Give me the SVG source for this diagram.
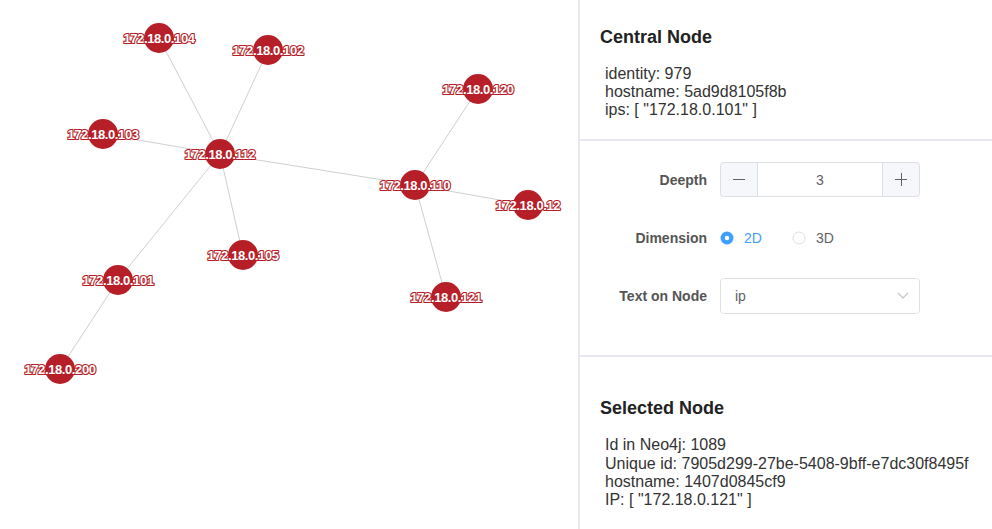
<svg xmlns="http://www.w3.org/2000/svg" width="992" height="529" viewBox="0 0 992 529">
<style>
.edge{stroke:#cfcfcf;stroke-width:1;fill:none}
.node circle{fill:#b71f28}
.node text{font-family:"Liberation Sans",Arial,sans-serif;font-size:13px;font-weight:bold;fill:#fff;stroke:#b71f28;stroke-width:2.2;paint-order:stroke;stroke-linejoin:round;text-anchor:middle;letter-spacing:-0.4px}
.title{font-family:"Liberation Sans",Arial,sans-serif;font-size:18px;font-weight:bold;fill:#222}
.body{font-family:"Liberation Sans",Arial,sans-serif;font-size:16px;fill:#333}
.lbl{font-family:"Liberation Sans",Arial,sans-serif;font-size:14px;font-weight:bold;fill:#555;text-anchor:end}
.ctl{font-family:"Liberation Sans",Arial,sans-serif;font-size:14px;fill:#606266}
.div{fill:#e8e9ef}
</style>
<rect width="992" height="529" fill="#fff"/>
<g id="connectors">
<line class="edge" x1="159" y1="38" x2="220" y2="154"/>
<line class="edge" x1="268" y1="50" x2="220" y2="154"/>
<line class="edge" x1="103" y1="134" x2="220" y2="154"/>
<line class="edge" x1="220" y1="154" x2="415" y2="185"/>
<line class="edge" x1="220" y1="154" x2="243" y2="255"/>
<line class="edge" x1="220" y1="154" x2="118" y2="280"/>
<line class="edge" x1="118" y1="280" x2="60" y2="369"/>
<line class="edge" x1="415" y1="185" x2="478" y2="89"/>
<line class="edge" x1="415" y1="185" x2="528" y2="205"/>
<line class="edge" x1="415" y1="185" x2="446" y2="297"/>
</g>
<g id="n104" class="node"><circle cx="159" cy="38" r="15"/><text x="159" y="43">172.18.0.104</text></g>
<g id="n102" class="node"><circle cx="268" cy="50" r="15"/><text x="268" y="55">172.18.0.102</text></g>
<g id="n103" class="node"><circle cx="103" cy="134" r="15"/><text x="103" y="139">172.18.0.103</text></g>
<g id="n112" class="node"><circle cx="220" cy="154" r="15"/><text x="220" y="159">172.18.0.112</text></g>
<g id="n105" class="node"><circle cx="243" cy="255" r="15"/><text x="243" y="260">172.18.0.105</text></g>
<g id="n101" class="node"><circle cx="118" cy="280" r="15"/><text x="118" y="285">172.18.0.101</text></g>
<g id="n200" class="node"><circle cx="60" cy="369" r="15"/><text x="60" y="374">172.18.0.200</text></g>
<g id="n120" class="node"><circle cx="478" cy="89" r="15"/><text x="478" y="94">172.18.0.120</text></g>
<g id="n110" class="node"><circle cx="415" cy="185" r="15"/><text x="415" y="190">172.18.0.110</text></g>
<g id="n12" class="node"><circle cx="528" cy="205" r="15"/><text x="528" y="210">172.18.0.12</text></g>
<g id="n121" class="node"><circle cx="446" cy="297" r="15"/><text x="446" y="302">172.18.0.121</text></g>

<g id="panel">
<rect class="div" x="578" y="0" width="2" height="529"/>
<rect class="div" x="580" y="139" width="412" height="2"/>
<rect class="div" x="580" y="355" width="412" height="2"/>

<g id="central">
<text class="title" x="600" y="43">Central Node</text>
<text class="body" x="605" y="79">identity: 979</text>
<text class="body" x="605" y="97">hostname: 5ad9d8105f8b</text>
<text class="body" x="605" y="115">ips: [ "172.18.0.101" ]</text>
</g>

<g id="deepth">
<text class="lbl" x="707" y="185">Deepth</text>
<path d="M757.5 163 V196 H720.5 V166 a3 3 0 0 1 3 -3 Z" fill="#f5f7fa"/>
<path d="M882.5 163 H916.5 a3 3 0 0 1 3 3 V193 a3 3 0 0 1 -3 3 H882.5 Z" fill="#f5f7fa"/>
<rect x="720.5" y="162.5" width="199" height="34" rx="3" fill="none" stroke="#dcdfe6"/>
<line x1="757.5" y1="163" x2="757.5" y2="196" stroke="#dcdfe6"/>
<line x1="882.5" y1="163" x2="882.5" y2="196" stroke="#dcdfe6"/>
<line x1="733" y1="179.5" x2="745" y2="179.5" stroke="#606266"/>
<line x1="895" y1="179.5" x2="907" y2="179.5" stroke="#606266"/>
<line x1="901.5" y1="173" x2="901.5" y2="186" stroke="#606266"/>
<text class="ctl" x="820" y="185" text-anchor="middle">3</text>
</g>

<g id="dimension">
<text class="lbl" x="707" y="243">Dimension</text>
<circle cx="727" cy="238" r="6.5" fill="#409eff"/>
<circle cx="727" cy="238" r="2.2" fill="#fff"/>
<text class="ctl" x="744" y="243" style="fill:#409eff">2D</text>
<circle cx="799" cy="238" r="6" fill="#fff" stroke="#dcdfe6"/>
<text class="ctl" x="816" y="243">3D</text>
</g>

<g id="textonnode">
<text class="lbl" x="707" y="301">Text on Node</text>
<rect x="720.5" y="278.5" width="199" height="35" rx="3" fill="#fff" stroke="#dcdfe6"/>
<text class="ctl" x="735" y="301">ip</text>
<path d="M898 293 L903 298 L908 293" fill="none" stroke="#c0c4cc" stroke-width="1.2"/>
</g>

<g id="selected">
<text class="title" x="600" y="414">Selected Node</text>
<text class="body" x="605" y="450">Id in Neo4j: 1089</text>
<text class="body" x="605" y="469">Unique id: 7905d299-27be-5408-9bff-e7dc30f8495f</text>
<text class="body" x="605" y="487">hostname: 1407d0845cf9</text>
<text class="body" x="605" y="505">IP: [ "172.18.0.121" ]</text>
</g>
</g>
</svg>
